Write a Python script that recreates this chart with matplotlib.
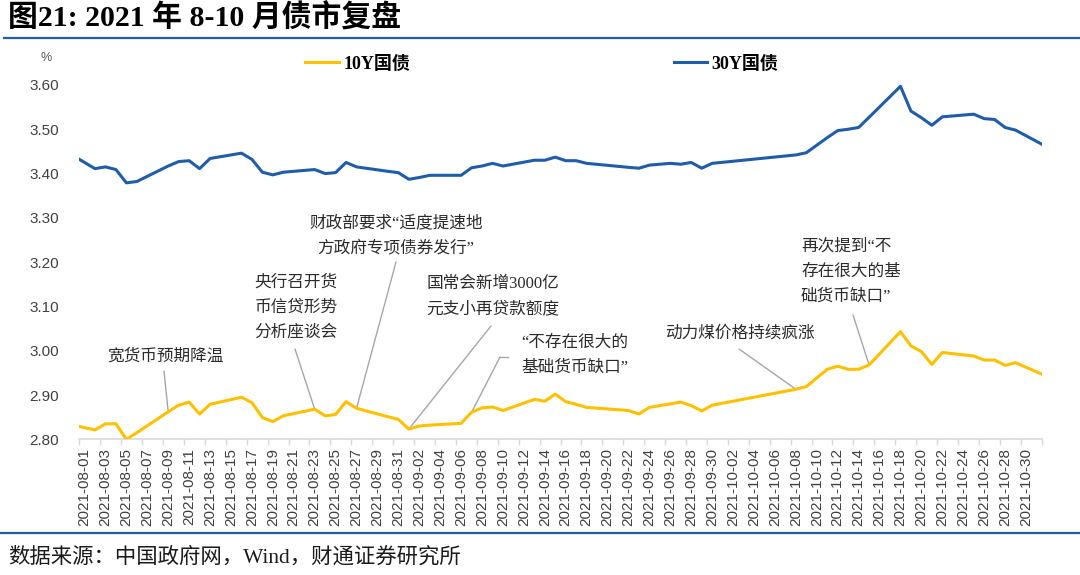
import numpy as np
import matplotlib.pyplot as plt
from matplotlib.lines import Line2D

plt.rcParams['font.family'] = ['Liberation Sans', 'Noto Sans CJK SC']

# 交易日及收益率（%），首尾各多一个点，由坐标轴截断
dates = ['2021-07-30', '2021-08-02', '2021-08-03', '2021-08-04', '2021-08-05',
         '2021-08-06', '2021-08-09', '2021-08-10', '2021-08-11', '2021-08-12',
         '2021-08-13', '2021-08-16', '2021-08-17', '2021-08-18', '2021-08-19',
         '2021-08-20', '2021-08-23', '2021-08-24', '2021-08-25', '2021-08-26',
         '2021-08-27', '2021-08-30', '2021-08-31', '2021-09-01', '2021-09-02',
         '2021-09-03', '2021-09-06', '2021-09-07', '2021-09-08', '2021-09-09',
         '2021-09-10', '2021-09-13', '2021-09-14', '2021-09-15', '2021-09-16',
         '2021-09-17', '2021-09-18', '2021-09-22', '2021-09-23', '2021-09-24',
         '2021-09-26', '2021-09-27', '2021-09-28', '2021-09-29', '2021-09-30',
         '2021-10-08', '2021-10-09', '2021-10-11', '2021-10-12', '2021-10-13',
         '2021-10-14', '2021-10-15', '2021-10-18', '2021-10-19', '2021-10-20',
         '2021-10-21', '2021-10-22', '2021-10-25', '2021-10-26', '2021-10-27',
         '2021-10-28', '2021-10-29', '2021-11-01']

y10 = [2.837, 2.821, 2.835, 2.835, 2.800,
       2.815, 2.862, 2.877, 2.884, 2.857,
       2.879, 2.895, 2.883, 2.849, 2.840,
       2.853, 2.868, 2.853, 2.856, 2.885,
       2.870, 2.851, 2.845, 2.823, 2.830,
       2.832, 2.836, 2.861, 2.871, 2.873,
       2.865, 2.890, 2.886, 2.902, 2.885,
       2.879, 2.872, 2.865, 2.857, 2.872,
       2.880, 2.884, 2.876, 2.864, 2.877,
       2.913, 2.919, 2.958, 2.965, 2.958,
       2.958, 2.968, 3.043, 3.011, 2.998,
       2.969, 2.996, 2.988, 2.979, 2.979,
       2.967, 2.973, 2.942]

y30 = [3.453, 3.411, 3.415, 3.409, 3.379,
       3.382, 3.417, 3.427, 3.429, 3.411,
       3.434, 3.446, 3.432, 3.403, 3.397,
       3.403, 3.409, 3.400, 3.402, 3.425,
       3.415, 3.405, 3.402, 3.387, 3.391,
       3.396, 3.396, 3.413, 3.417, 3.423,
       3.417, 3.430, 3.430, 3.437, 3.429,
       3.429, 3.423, 3.414, 3.412, 3.419,
       3.423, 3.421, 3.425, 3.412, 3.423,
       3.442, 3.447, 3.481, 3.497, 3.500,
       3.504, 3.527, 3.597, 3.541, 3.526,
       3.509, 3.528, 3.534, 3.524, 3.522,
       3.504, 3.498, 3.460]

yticks = [2.80, 2.90, 3.00, 3.10, 3.20, 3.30, 3.40, 3.50, 3.60]

# 事件标注：文字行、对应日期（标在10Y上）
notes = [
    (['宽货币预期降温'], '2021-08-09'),
    (['央行召开货', '币信贷形势', '分析座谈会'], '2021-08-23'),
    (['财政部要求“适度提速地', '方政府专项债券发行”'], '2021-08-27'),
    (['国常会新增3000亿', '元支小再贷款额度'], '2021-09-01'),
    (['“不存在很大的', '基础货币缺口”'], '2021-09-07'),
    (['动力煤价格持续疯涨'], '2021-10-08'),
    (['再次提到“不', '存在很大的基', '础货币缺口”'], '2021-10-15'),
]
# 文字位置(像素)、对齐方式、引线起点(像素)
note_layout = [
    (165, 357, 'center', (164, 371)),
    (296, 283, 'center', (295, 349)),
    (396, 223, 'center', (396, 262)),
    (493, 284, 'center', (491, 326)),
    (575, 343, 'center', (500, 357)),
    (740, 334, 'center', (739, 349)),
    (801, 247, 'left', (853, 315)),
]

W, H = 1080, 575


def fx(px):
    return px / W


def fy(py):
    return 1 - py / H


serif_cjk = ['Liberation Serif', 'Noto Sans CJK SC']

fig = plt.figure(figsize=(10.8, 5.75), dpi=100)
ax = fig.add_axes([fx(79.3), fy(439.3), fx(1041.7) - fx(79.3), (439.3 - 62.8) / H])

d0 = np.datetime64('2021-08-01')
x = (np.array(dates, dtype='datetime64[D]') - d0).astype(int)

ax.plot(x, y10, color='#FFC000', lw=2.2, label='10Y国债', zorder=3)
ax.plot(x, y30, color='#1F5CAA', lw=2.2, label='30Y国债', zorder=3)

ax.set_xlim(-0.5, 91.5)
ax.set_ylim(2.80, 3.65)
ax.set_yticks(yticks)
ax.set_yticklabels(['%.2f' % v for v in yticks])

for s in ['top', 'right', 'left']:
    ax.spines[s].set_visible(False)
ax.spines['bottom'].set_color('#D9D9D9')
ax.spines['bottom'].set_linewidth(1.2)

major = np.arange(0, 91, 2)
ax.set_xticks(major)
ax.set_xticklabels([str(d0 + int(k)) for k in major])
ax.set_xticks(np.arange(-0.5, 92, 2), minor=True)
ax.tick_params(axis='x', which='major', length=0, pad=6.3, labelsize=11,
               labelrotation=90, labelcolor='#404040')
ax.tick_params(axis='x', which='minor', length=4, width=1, color='#D9D9D9')
ax.tick_params(axis='y', length=0, pad=14.9, labelsize=11, labelcolor='#404040')

# 标注
for (lines, d), (tx, ty, ha, start) in zip(notes, note_layout):
    i = dates.index(d)
    for k, line in enumerate(lines):
        fig.text(fx(tx), fy(ty + 25 * k), line, fontsize=12, ha=ha, va='center',
                 color='#2b2b2b', family=serif_cjk)
    ax.annotate('', xy=(x[i], y10[i]), xycoords='data',
                xytext=(fx(start[0]), fy(start[1])), textcoords='figure fraction',
                arrowprops=dict(arrowstyle='-', color='#A6A6A6', lw=1,
                                shrinkA=0, shrinkB=0), zorder=2)
# 第五条标注的短横线
fig.add_artist(Line2D([fx(500), fx(508)], [fy(357), fy(357)], color='#A6A6A6', lw=1))

ax.legend(loc='center', bbox_to_anchor=(fx(542), fy(64)), bbox_transform=fig.transFigure,
          ncol=2, frameon=False, handlelength=1.85, handletextpad=0.25, columnspacing=14.6,
          prop={'family': serif_cjk, 'weight': 'bold', 'size': 13})

fig.text(fx(46), fy(58), '%', fontsize=9, color='#595959', ha='center', va='center')

# 标题、分隔线、资料来源
fig.text(fx(8), fy(18), '图21: 2021 年 8-10 月债市复盘', fontsize=21.5, fontweight='bold',
         family=serif_cjk, ha='left', va='center')
fig.add_artist(Line2D([fx(4), fx(1080)], [fy(37.7), fy(37.7)], color='#1F5CAA', lw=1.6))
fig.add_artist(Line2D([fx(0), fx(1080)], [fy(532.5), fy(532.5)], color='#1F5CAA', lw=1.6))
fig.text(fx(8), fy(557), '数据来源：中国政府网，Wind，财通证券研究所', fontsize=15.4,
         family=serif_cjk, ha='left', va='center', color='#1a1a1a')

fig.savefig('out.png', dpi=100)
